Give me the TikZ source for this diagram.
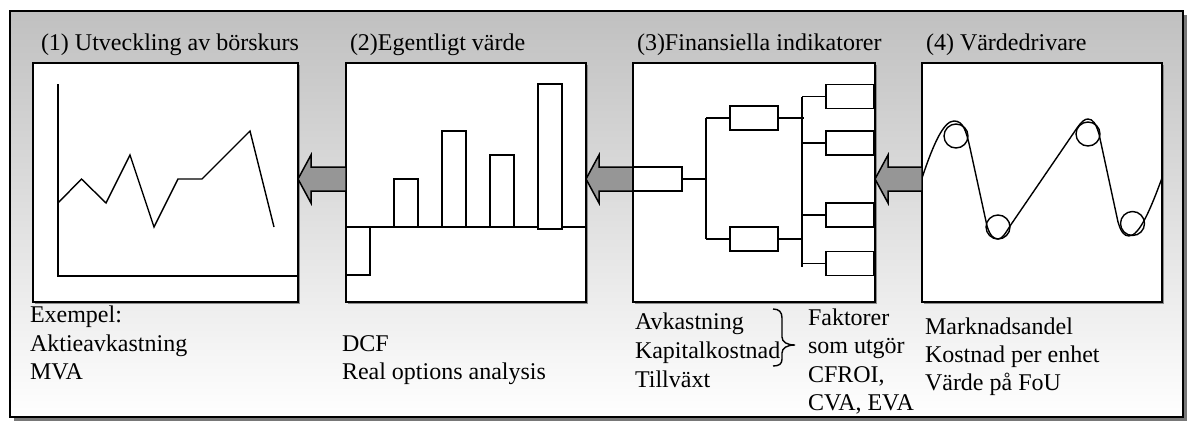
\documentclass[tikz,border=0pt]{standalone}
\usepackage{fontspec}
\setmainfont{Liberation Serif}
\definecolor{bgtop}{RGB}{192,192,192}
\definecolor{arrowgray}{RGB}{150,150,150}
\definecolor{framesh}{RGB}{120,120,120}
\begin{document}
\begin{tikzpicture}[x=0.5pt,y=-0.5pt,line width=0.7pt,
  txt/.style={anchor=base west, inner sep=0pt, outer sep=0pt, font=\fontsize{12}{14}\selectfont},
  panel/.style={draw=black, fill=white, line width=0.8pt},
  pshadow/.style={fill=black!45},
  barbox/.style={draw=black, fill=white},
  fbox/.style={draw=black, fill=white, minimum width=24pt, minimum height=12pt, inner sep=0pt, outer sep=0pt},
  blockarrow/.style={draw=black, fill=arrowgray, line width=0.75pt, line join=miter},
  curve/.style={draw=black, line width=0.7pt}]
\useasboundingbox (0,0) rectangle (1187,423);

% outer frame with shadow and gradient
\fill[framesh] (14,15) rectangle (1187,421);
\shade[top color=bgtop, bottom color=white] (10,11) rectangle (1183,417);
\draw[line width=0.8pt] (10,11) rectangle (1183,417);

% titles
\node[txt] (t1) at (41,50) {(1) Utveckling av börskurs};
\node[txt] (t2) at (350,50) {(2)Egentligt värde};
\node[txt] (t3) at (637,50) {(3)Finansiella indikatorer};
\node[txt] (t4) at (926,50) {(4) Värdedrivare};

% panels
\foreach \a/\b/\n in {33/298/1, 346/586/2, 633/875/3, 922/1162/4}{
  \fill[pshadow] (\a+2,65) rectangle (\b+2,304);
  \draw[panel] (\a,63) rectangle (\b,302);
  \coordinate (p\n w) at (\a,179);
  \coordinate (p\n e) at (\b,179);
}

% panel 1: line chart
\draw (58,84) -- (58,276) -- (298,276);
\draw[line join=miter] (58,203) -- (81.5,179) -- (106,203) -- (130,155) -- (154,227)
  -- (178,179) -- (202,179) -- (250,131) -- (274,227);

% panel 2: bar chart
\draw (346,227) -- (586,227);
\draw[barbox] (346,227) rectangle (370,275);
\draw[barbox] (394,227) rectangle (418,179);
\draw[barbox] (442,227) rectangle (466,131);
\draw[barbox] (490,227) rectangle (514,155);
\draw[barbox] (538,229) rectangle (562,84);

% panel 3: tree
\node[fbox, minimum width=24.5pt] (b0) at (657.5,179) {};
\node[fbox] (b1) at (754,118) {};
\node[fbox] (b2) at (754,239) {};
\node[fbox] (r1) at (850,96.5) {};
\node[fbox] (r2) at (850,143) {};
\node[fbox] (r3) at (850,215) {};
\node[fbox] (r4) at (850,263.5) {};
\coordinate (j1) at (706,179);
\coordinate (j1t) at (706,118);
\coordinate (j1b) at (706,239);
\coordinate (j2t) at (802,96.5);
\coordinate (j2b) at (802,267);
\draw (b0.east) -- (j1);
\draw (j1t) -- (j1b);
\draw (j1t) -- (b1.west);
\draw (j1b) -- (b2.west);
\draw (b1.east) -- (804,118);
\draw (b2.east) -- (802,239);
\draw (j2t) -- (j2b);
\draw (j2t) -- (r1.west);
\draw (802,143) -- (r2.west);
\draw (802,215) -- (r3.west);
\draw (802,263.5) -- (r4.west);

% panel 4: wave with circles
\draw[curve] (922,178) .. controls (934,142) and (944,121) .. (954,121)
  .. controls (963,121) and (966,130) .. (970,148) -- (987,226)
  .. controls (990,236) and (994,239) .. (998,239)
  .. controls (1002,239) and (1005,234) .. (1010,226) -- (1077,128)
  .. controls (1082,121) and (1085,119) .. (1088,119)
  .. controls (1093,119) and (1096,124) .. (1099,134) -- (1118,222)
  .. controls (1121,232) and (1124,236) .. (1129,236)
  .. controls (1140,236) and (1152,205) .. (1162,178);
\foreach \cx/\cy in {956/136, 998/227, 1088/134, 1132.5/223.5}
  \draw[curve] (\cx,\cy) circle[radius=12];

% block arrows (pointing left)
\draw[blockarrow] (p1e) -- (311,155) -- (311,167) -- (346,167) -- (346,191) -- (311,191) -- (311,203) -- cycle;
\draw[blockarrow] (p2e) -- (599,155) -- (599,167) -- (633,167) -- (633,191) -- (599,191) -- (599,203) -- cycle;
\draw[blockarrow] (p3e) -- (888,155) -- (888,167) -- (922,167) -- (922,191) -- (888,191) -- (888,203) -- cycle;
\node[fbox, minimum width=24.5pt] at (b0) {};

% texts below
\node[txt] (e1) at (30,322) {Exempel:};
\node[txt] (e2) at (30,351) {Aktieavkastning};
\node[txt] (e3) at (30,379) {MVA};
\node[txt] (d1) at (342,351) {DCF};
\node[txt] (d2) at (342,379) {Real options analysis};
\node[txt] (f1) at (635,329) {Avkastning};
\node[txt] (f2) at (635,358) {Kapitalkostnad};
\node[txt] (f3) at (635,387) {Tillväxt};
\node[txt] (g1) at (808,325) {Faktorer};
\node[txt] (g2) at (808,353) {som utgör};
\node[txt] (g3) at (808,382) {CFROI,};
\node[txt] (g4) at (808,410) {CVA, EVA};
\node[txt] (h1) at (925,334) {Marknadsandel};
\node[txt] (h2) at (925,362) {Kostnad per enhet};
\node[txt] (h3) at (925,390) {Värde på FoU};

% brace
\draw[line width=0.7pt] (773,309) .. controls (779,309) and (782,312) .. (782,318)
  -- (782,337) .. controls (782,342) and (787,345) .. (795,345)
  .. controls (787,345) and (782,348) .. (782,353)
  -- (782,359) .. controls (782,364) and (779,366) .. (773,366);
\end{tikzpicture}
\end{document}
